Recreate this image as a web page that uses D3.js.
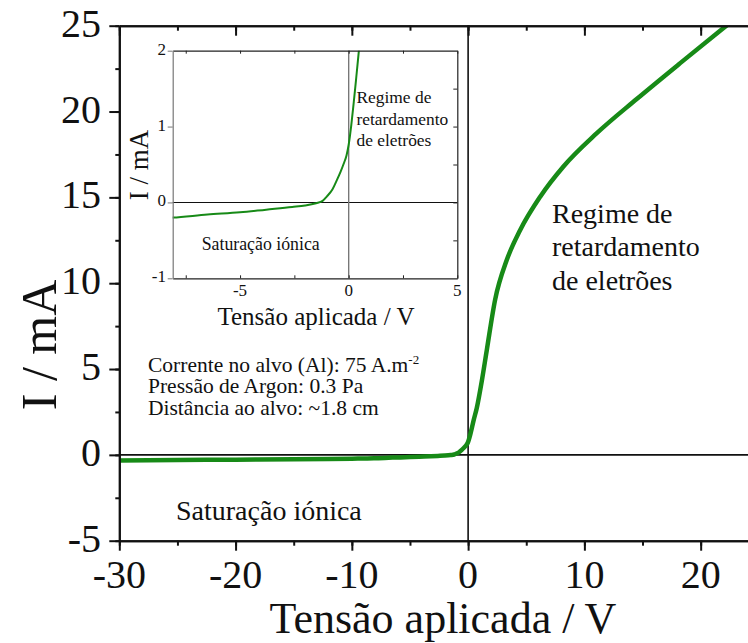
<!DOCTYPE html>
<html>
<head>
<meta charset="utf-8">
<script src="https://cdn.jsdelivr.net/npm/d3@7"></script>
<style>
  html, body { margin: 0; padding: 0; background: #ffffff; }
  svg { display: block; }
  text { font-family: "Liberation Serif", "Times New Roman", serif; fill: #111; }
</style>
</head>
<body>
<svg id="chart" width="748" height="643" font-family="Liberation Serif, serif"></svg>
<script>
// Probe I–V characteristic: applied voltage (V) and collected current (mA)
const voltage = [-30, -25, -20, -15, -10, -8.1, -6.5, -5, -3.8, -2.6, -2.0, -1.5, -1.2, -1.0, -0.75, -0.55, -0.38, -0.23, -0.1, 0, 0.12, 0.23, 0.35, 0.47, 0.75, 1.2, 1.61, 2.32, 3.33, 4.48, 6.2, 8.2, 11.07, 14.5, 18.24, 21.7, 23.5];
const current = [-0.33, -0.3, -0.28, -0.25, -0.22, -0.2, -0.16, -0.13, -0.095, -0.06, -0.04, -0.01, 0.02, 0.08, 0.17, 0.29, 0.4, 0.51, 0.62, 0.76, 1.02, 1.31, 1.65, 2.0, 2.75, 4.4, 6.12, 9.03, 11.36, 13.1, 15.04, 16.8, 18.74, 20.73, 22.82, 24.72, 25.7];

// Axis ticks
const mainXTicks = [-30, -20, -10, 0, 10, 20];
const mainYTicks = [-5, 0, 5, 10, 15, 20, 25];
const insetXTicks = [-5, 0, 5];
const insetYTicks = [-1, 0, 1, 2];

// Text
const xTitle = "Tensão aplicada / V";
const yTitle = "I / mA";
const regimeLines = ["Regime de", "retardamento", "de eletrões"];
const saturationLabel = "Saturação iónica";
const conditionLines = ["Corrente no alvo (Al): 75 A.m", "Pressão de Argon: 0.3 Pa", "Distância ao alvo: ~1.8 cm"];
const conditionSup = "-2";

const green = "#178a17";
const points = voltage.map((v, i) => ({ v, i: current[i] }));
const fmt = d => d < 0 ? "-" + Math.abs(d) : String(d);

const svg = d3.select("#chart");

// ---------- main plot ----------
const M = { left: 119.3, right: 758.8, top: 25.7, bottom: 540.7 };
const x = d3.scaleLinear().domain([-30, 25]).range([M.left, M.right]);
const y = d3.scaleLinear().domain([-5, 25]).range([M.bottom, M.top]);

svg.append("clipPath").attr("id", "mainClip")
  .append("rect").attr("x", M.left).attr("y", M.top)
  .attr("width", M.right - M.left).attr("height", M.bottom - M.top);

// zero reference lines
svg.append("line").attr("x1", M.left).attr("x2", M.right)
  .attr("y1", y(0)).attr("y2", y(0)).attr("stroke", "#111").attr("stroke-width", 1.6);
svg.append("line").attr("x1", x(0)).attr("x2", x(0))
  .attr("y1", M.top).attr("y2", M.bottom).attr("stroke", "#111").attr("stroke-width", 1.6);

const line = d3.line().x(d => x(d.v)).y(d => y(d.i)).curve(d3.curveMonotoneX);
svg.append("path").datum(points)
  .attr("clip-path", "url(#mainClip)")
  .attr("fill", "none").attr("stroke", green).attr("stroke-width", 4.5)
  .attr("stroke-linejoin", "round").attr("d", line);

// axes: major and minor ticks drawn as separate axis passes
function styleAxis(g) {
  g.select(".domain").attr("stroke", "#111").attr("stroke-width", 2);
  g.selectAll(".tick line").attr("stroke", "#111").attr("stroke-width", 2);
  g.selectAll("text").remove();
}
const xMinor = d3.range(-30, 26, 5);
const yMinor = d3.range(-5, 25.1, 2.5);

svg.append("g").attr("transform", `translate(0,${M.bottom})`)
  .call(d3.axisBottom(x).tickValues(xMinor).tickSize(5).tickSizeOuter(0)).call(styleAxis);
svg.append("g").attr("transform", `translate(0,${M.bottom})`)
  .call(d3.axisBottom(x).tickValues(mainXTicks).tickSize(10).tickSizeOuter(0)).call(styleAxis);
svg.append("g").attr("transform", `translate(0,${M.top})`)
  .call(d3.axisTop(x).tickValues(xMinor).tickSize(-5).tickSizeOuter(0)).call(styleAxis);
svg.append("g").attr("transform", `translate(0,${M.top})`)
  .call(d3.axisTop(x).tickValues(mainXTicks).tickSize(-10).tickSizeOuter(0)).call(styleAxis);
svg.append("g").attr("transform", `translate(${M.left},0)`)
  .call(d3.axisLeft(y).tickValues(yMinor).tickSize(4).tickSizeOuter(0)).call(styleAxis);
svg.append("g").attr("transform", `translate(${M.left},0)`)
  .call(d3.axisLeft(y).tickValues(mainYTicks).tickSize(10).tickSizeOuter(0)).call(styleAxis);
svg.append("g").attr("transform", `translate(${M.right},0)`)
  .call(d3.axisRight(y).tickValues(mainYTicks).tickSize(-10).tickSizeOuter(0)).call(styleAxis);

// tick labels
svg.append("g").selectAll("text").data(mainXTicks).join("text")
  .attr("x", d => x(d)).attr("y", 588).attr("text-anchor", "middle")
  .attr("font-size", 40).text(fmt);
svg.append("g").selectAll("text").data(mainYTicks).join("text")
  .attr("x", 101).attr("y", d => y(d) + 11).attr("text-anchor", "end")
  .attr("font-size", 40).text(fmt);

// axis titles
svg.append("text").attr("x", 443).attr("y", 633).attr("text-anchor", "middle")
  .attr("font-size", 44).text(xTitle);
svg.append("text").attr("transform", "translate(56,345) rotate(-90)")
  .attr("text-anchor", "middle").attr("font-size", 50).text(yTitle);

// annotations
svg.append("text").attr("font-size", 28).selectAll("tspan").data(regimeLines).join("tspan")
  .attr("x", 552).attr("y", (d, k) => 223 + k * 33.3).text(d => d);
svg.append("text").attr("x", 176).attr("y", 520).attr("font-size", 28).text(saturationLabel);

const cond = svg.append("text").attr("font-size", 21.5);
conditionLines.forEach((t, k) => {
  cond.append("tspan").attr("x", 148).attr("y", 371.7 + k * 21.7).text(t);
  if (k === 0) {
    cond.append("tspan").attr("dy", -8).attr("font-size", 13).text(conditionSup);
  }
});

// ---------- inset ----------
const N = { left: 172.7, right: 457.3, top: 50.7, bottom: 278.3 };
const xi = d3.scaleLinear().domain([-8.1, 5]).range([N.left, N.right]);
const yi = d3.scaleLinear().domain([-1, 2]).range([N.bottom, N.top]);

svg.append("rect").attr("x", N.left).attr("y", N.top)
  .attr("width", N.right - N.left).attr("height", N.bottom - N.top)
  .attr("fill", "#ffffff");

svg.append("clipPath").attr("id", "insetClip")
  .append("rect").attr("x", N.left).attr("y", N.top)
  .attr("width", N.right - N.left).attr("height", N.bottom - N.top);

svg.append("line").attr("x1", N.left).attr("x2", N.right)
  .attr("y1", yi(0)).attr("y2", yi(0)).attr("stroke", "#111").attr("stroke-width", 1.1);
svg.append("line").attr("x1", xi(0)).attr("x2", xi(0))
  .attr("y1", N.top).attr("y2", N.bottom).attr("stroke", "#777").attr("stroke-width", 1.4);

const lineI = d3.line().x(d => xi(d.v)).y(d => yi(d.i)).curve(d3.curveMonotoneX);
svg.append("path").datum(points)
  .attr("clip-path", "url(#insetClip)")
  .attr("fill", "none").attr("stroke", green).attr("stroke-width", 2)
  .attr("d", lineI);

function styleInset(g, color) {
  g.select(".domain").attr("stroke", color).attr("stroke-width", 1.2);
  g.selectAll(".tick line").attr("stroke", color).attr("stroke-width", 1);
  g.selectAll("text").remove();
}
svg.append("g").attr("transform", `translate(0,${N.bottom})`)
  .call(d3.axisBottom(xi).tickValues([-7.5, -5, -2.5, 0, 2.5, 5]).tickSize(-3).tickSizeOuter(0))
  .call(g => styleInset(g, "#222"));
svg.append("g").attr("transform", `translate(0,${N.top})`)
  .call(d3.axisTop(xi).tickValues([-7.5, -5, -2.5, 0, 2.5, 5]).tickSize(-3).tickSizeOuter(0))
  .call(g => styleInset(g, "#222"));
svg.append("g").attr("transform", `translate(${N.right},0)`)
  .call(d3.axisRight(yi).tickValues([-0.5, 0, 0.5, 1, 1.5]).tickSize(-4).tickSizeOuter(0))
  .call(g => styleInset(g, "#222"));
svg.append("g").attr("transform", `translate(${N.left},0)`)
  .call(d3.axisLeft(yi).tickValues(insetYTicks).tickSize(5).tickSizeOuter(0))
  .call(g => styleInset(g, "#777"));

svg.append("g").selectAll("text").data(insetXTicks).join("text")
  .attr("x", d => xi(d)).attr("y", 296).attr("text-anchor", "middle")
  .attr("font-size", 17).text(fmt);
svg.append("g").selectAll("text").data(insetYTicks).join("text")
  .attr("x", 166).attr("y", d => yi(d) + 4).attr("text-anchor", "end")
  .attr("font-size", 17).text(fmt);

svg.append("text").attr("x", 316).attr("y", 325).attr("text-anchor", "middle")
  .attr("font-size", 25).text(xTitle);
svg.append("text").attr("transform", "translate(148,165) rotate(-90)")
  .attr("text-anchor", "middle").attr("font-size", 27).text(yTitle);

svg.append("text").attr("font-size", 17.4).selectAll("tspan").data(regimeLines).join("tspan")
  .attr("x", 356.5).attr("y", (d, k) => 103.3 + k * 21.4).text(d => d);
svg.append("text").attr("x", 201.7).attr("y", 250).attr("font-size", 17.8).text(saturationLabel);
</script>
</body>
</html>
